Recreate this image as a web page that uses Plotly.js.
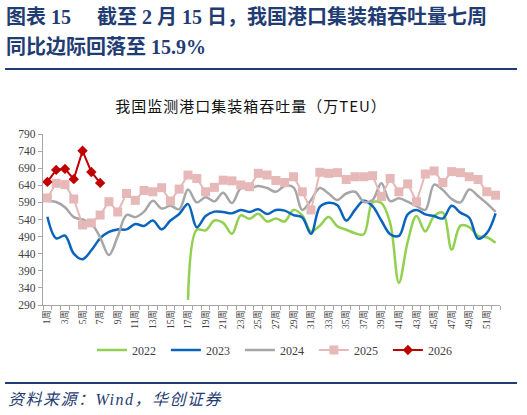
<!DOCTYPE html>
<html><head><meta charset="utf-8">
<script src="https://cdn.plot.ly/plotly-3.0.1.min.js"></script>
<style>
body{margin:0;padding:0;background:#fff;}
#wrap{position:relative;width:527px;height:415px;overflow:hidden;background:#fff;}
#chart{position:absolute;left:0;top:0;width:527px;height:415px;}
.h{position:absolute;left:6px;font-family:"Liberation Serif","Noto Sans CJK SC";font-weight:bold;font-size:20px;line-height:24px;color:#1F3C73;white-space:nowrap;}
.rule{position:absolute;left:5px;width:512px;height:2px;background:#1F3C73;}
#ctitle{position:absolute;left:0;width:502px;text-align:center;top:97px;font-family:"Noto Sans CJK SC","Liberation Serif";font-size:15px;line-height:18px;letter-spacing:1px;color:#111;white-space:nowrap;}
#src{position:absolute;left:8px;top:390px;font-family:"Liberation Serif","Noto Sans CJK SC";font-style:italic;font-size:16px;line-height:20px;letter-spacing:1.5px;color:#1F3C73;white-space:nowrap;}
</style></head>
<body>
<div id="wrap">
<div id="chart"></div>
<div class="h" style="top:5px;">图表 15<span style="display:inline-block;width:26px"></span>截至 2 月 15 日，我国港口集装箱吞吐量七周</div>
<div class="h" style="top:35px;">同比边际回落至 15.9%</div>
<div class="rule" style="top:68px;"></div>
<div id="ctitle">我国监测港口集装箱吞吐量（万TEU）</div>
<div class="rule" style="top:382px;"></div>
<div id="src">资料来源：Wind，华创证券</div>
</div>
<script>
const weeks = [1,2,3,4,5,6,7,8,9,10,11,12,13,14,15,16,17,18,19,20,21,22,23,24,25,26,
  27,28,29,30,31,32,33,34,35,36,37,38,39,40,41,42,43,44,45,46,47,48,49,50,51,52];
const tickWeeks = [1,3,5,7,9,11,13,15,17,19,21,23,25,27,29,31,33,35,37,39,41,43,45,47,49,51];
const tickLabels = ["1周","3周","5周","7周","9周","11周","13周","15周","17周","19周","21周","23周","25周",
  "27周","29周","31周","33周","35周","37周","39周","41周","43周","45周","47周","49周","51周"];
const s2022 = [null,null,null,null,null,null,null,null,null,null,null,null,null,null,null,null,
  305,510,508,537,530,498,552,542,557,534,543,534,568,552,505,522,547,520,510,500,497,590,588,530,
  355,475,550,505,550,560,452,522,518,492,488,472];
const s2023 = [548,485,493,440,424,450,485,504,511,511,527,521,537,511,537,556,585,517,550,563,
  562,558,568,562,570,556,568,566,553,546,498,577,589,582,537,568,595,579,537,497,
  492,555,568,555,550,543,580,560,545,484,500,558];
const s2024 = [594,591,576,547,540,528,488,436,490,553,547,563,595,572,580,570,628,590,605,593,
  618,588,631,630,638,632,621,638,634,568,597,632,616,597,616,621,592,597,646,594,
  602,592,579,568,642,626,600,590,628,609,587,562];
const s2025 = [603,646,642,600,524,530,553,592,562,616,596,625,621,633,594,629,670,660,621,634,
  655,653,641,636,675,670,654,648,665,621,568,678,675,677,657,665,665,668,607,660,
  621,644,592,673,682,648,680,677,665,657,621,611];
const s2026 = [650,685,688,658,741,679,647];

const boundaries = weeks.map(w => w - 0.5).concat([weeks[weeks.length-1] + 0.5]);

const traces = [
  {name:'2022', x:weeks, y:s2022, type:'scatter', mode:'lines', connectgaps:false,
   line:{color:'#92D050', width:2.5, shape:'spline', smoothing:1}},
  {name:'2023', x:weeks, y:s2023, type:'scatter', mode:'lines',
   line:{color:'#0A64BE', width:2.5, shape:'spline', smoothing:1}},
  {name:'2024', x:weeks, y:s2024, type:'scatter', mode:'lines',
   line:{color:'#A6A6A6', width:2.5, shape:'spline', smoothing:1}},
  {name:'2025', x:weeks, y:s2025, type:'scatter', mode:'lines+markers',
   line:{color:'#E6B8B7', width:2}, marker:{symbol:'square', size:9, color:'#E6B8B7'}},
  {name:'2026', x:weeks.slice(0, s2026.length), y:s2026, type:'scatter', mode:'lines+markers',
   line:{color:'#C00000', width:2}, marker:{symbol:'diamond', size:8, color:'#C00000'}}
];

const layout = {
  width:527, height:415,
  margin:{l:43, r:27, t:134, b:110, pad:0},
  paper_bgcolor:'rgba(0,0,0,0)', plot_bgcolor:'rgba(0,0,0,0)',
  showlegend:true,
  legend:{orientation:'h', x:0.107, xanchor:'left', y:-0.263, yanchor:'middle',
    font:{family:'Liberation Serif', size:12, color:'#404040'},
    entrywidth:29, entrywidthmode:'pixels', bgcolor:'rgba(0,0,0,0)', tracegroupgap:0},
  xaxis:{range:[0.5,52.5], tickmode:'array', tickvals:tickWeeks, ticktext:tickLabels,
    tickangle:-90, ticks:'', showline:true, linecolor:'#A6A6A6', linewidth:1.3,
    showgrid:false, zeroline:false,
    minor:{tickmode:'array', tickvals:boundaries, ticks:'outside', ticklen:4, tickcolor:'#A6A6A6', showgrid:false},
    tickfont:{family:'Liberation Serif, Noto Sans CJK SC', size:9.5, color:'#404040'}},
  yaxis:{range:[290,790], tick0:290, dtick:50, ticks:'outside', ticklen:4, tickcolor:'#A6A6A6',
    showline:true, linecolor:'#A6A6A6', linewidth:1.3, showgrid:false, zeroline:false,
    tickfont:{family:'Liberation Serif', size:11.5, color:'#404040'}}
};
Plotly.newPlot('chart', traces, layout, {staticPlot:true, displayModeBar:false});
</script>
</body></html>
